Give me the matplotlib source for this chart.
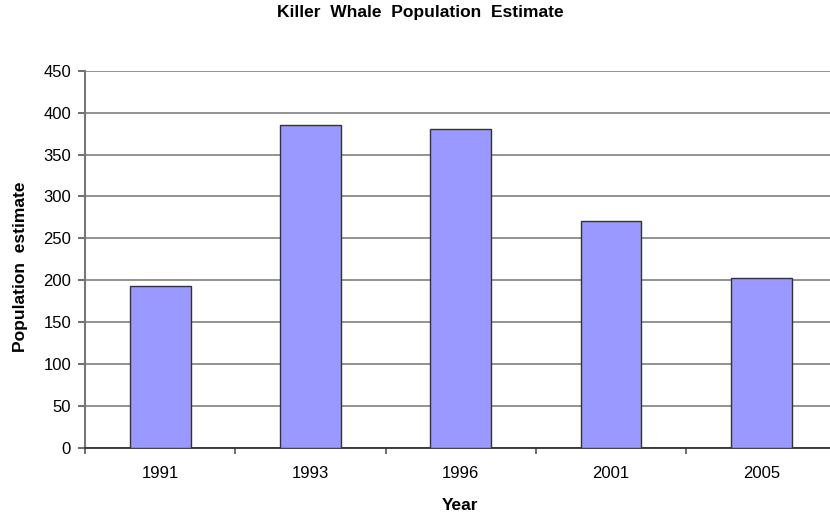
import numpy as np
import matplotlib.pyplot as plt

plt.rcParams['font.family'] = ['Liberation Sans', 'DejaVu Sans']

years = ['1991', '1993', '1996', '2001', '2005']
population = [193, 385, 381, 271, 203]

fig = plt.figure(figsize=(8.3, 5.16), dpi=100)
ax = fig.add_axes([85 / 830, 68 / 516, 751.5 / 830, 377.3 / 516])

x = np.arange(len(years))
ax.bar(x, population, width=0.405, color='#9999ff', edgecolor='#333333', linewidth=1.0, zorder=3)

ax.set_ylim(0, 450)
ax.set_yticks(np.arange(0, 451, 50))
ax.set_xlim(-0.5, len(years) - 0.5)
ax.set_xticks(x)
ax.set_xticklabels(years)
ax.set_xticks(np.arange(-0.5, len(years), 1), minor=True)
ax.tick_params(axis='x', which='major', length=0, pad=13, labelsize=12)
ax.tick_params(axis='x', which='minor', length=4, width=1.2, color='#555555')
ax.tick_params(axis='y', length=5, width=1.2, color='#555555', labelsize=12, pad=5)

ax.grid(axis='y', color='#8a8a8a', linewidth=1.3, zorder=0)
for s in ['top', 'right']:
    ax.spines[s].set_visible(False)
ax.spines['left'].set_color('#777777')
ax.spines['left'].set_linewidth(1.5)
ax.spines['bottom'].set_color('#333333')
ax.spines['bottom'].set_linewidth(1.3)

ax.set_xlabel('Year', fontsize=12.5, fontweight='bold', va='center')
ax.xaxis.set_label_coords((460 - 85) / 751.5, (448 - 506) / 377.3)
ax.set_ylabel('Population  estimate', fontsize=12.5, fontweight='bold', va='center')
ax.yaxis.set_label_coords((20 - 85) / 751.5, 0.48)
fig.text(420 / 830, 1 - 13 / 516, 'Killer  Whale  Population  Estimate', ha='center', va='center',
         fontsize=12.5, fontweight='bold')

fig.savefig('out.png', dpi=100)
